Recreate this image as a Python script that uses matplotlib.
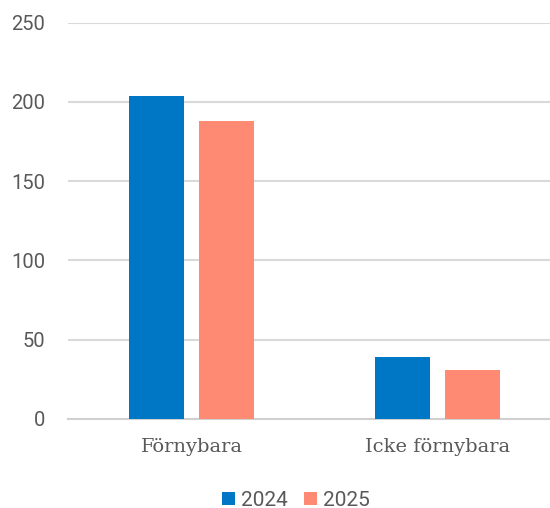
import matplotlib.pyplot as plt
import numpy as np

categories = ['Förnybara', 'Icke förnybara']
years = ['2024', '2025']
values_2024 = [204, 39]
values_2025 = [188, 31]
y_ticks = [0, 50, 100, 150, 200, 250]

colors = ['#0077C5', '#FF8A73']
text_color = '#595959'

fig = plt.figure(figsize=(5.5, 5.08), dpi=100)
ax = fig.add_axes([68 / 550, 89.3 / 508, 482 / 550, 396 / 508])

x = np.arange(len(categories))
width = 0.224
offset = 0.142
ax.bar(x - offset, values_2024, width, color=colors[0], label=years[0], zorder=3)
ax.bar(x + offset, values_2025, width, color=colors[1], label=years[1], zorder=3)

ax.set_xlim(-0.502, 1.457)
ax.set_ylim(0, 250)
ax.set_yticks(y_ticks)
ax.set_yticklabels([str(t) for t in y_ticks], family='Roboto', fontsize=14.5, color=text_color)
ax.set_xticks(x)
ax.set_xticklabels(categories, family='DejaVu Serif', fontsize=14, color=text_color)
ax.tick_params(axis='y', length=0, pad=16.5)
ax.tick_params(axis='x', length=0, pad=14)

ax.yaxis.grid(True, color='#D9D9D9', linewidth=1.5, zorder=0)
for side in ['top', 'right', 'left']:
    ax.spines[side].set_visible(False)
ax.spines['bottom'].set_color('#D0D0D0')
ax.spines['bottom'].set_linewidth(1.5)

leg = fig.legend(loc='center', bbox_to_anchor=(296 / 550, 8 / 508), ncol=2, frameon=False,
                 prop={'family': 'Roboto', 'size': 15}, handlelength=0.6, handleheight=0.6,
                 handletextpad=0.3, columnspacing=0.8)
for t in leg.get_texts():
    t.set_color(text_color)

fig.savefig('out.png', dpi=100)
